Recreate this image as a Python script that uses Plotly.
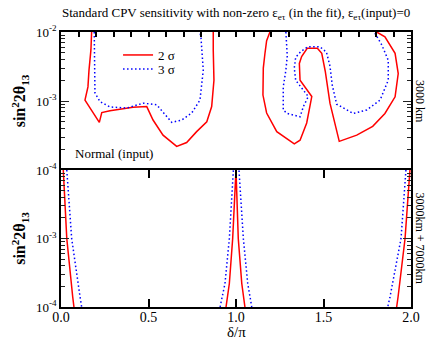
import plotly.graph_objects as go

# ---------------- data (delta/pi, sin^2 2theta13) ----------------
# Top panel: 3000 km
top_red_a_delta = [0.175, 0.171, 0.160, 0.154, 0.137, 0.219, 0.233, 0.28, 0.411, 0.49, 0.526,
                   0.583, 0.661, 0.718, 0.775, 0.833, 0.861, 0.874, 0.870, 0.870]
top_red_a_s2 = [0.01, 0.0055, 0.0028, 0.0016, 0.00103, 0.00049, 0.00068, 0.00072, 0.00081, 0.00083,
                0.00053, 0.00032, 0.00022, 0.00025, 0.00036, 0.00050, 0.00083, 0.0020, 0.0055, 0.01]

top_blue_a_delta = [0.190, 0.190, 0.194, 0.223, 0.28, 0.375, 0.47, 0.547, 0.585, 0.633, 0.69,
                    0.747, 0.794, 0.813, 0.80, 0.794]
top_blue_a_s2 = [0.01, 0.0028, 0.00131, 0.00098, 0.00082, 0.00079, 0.00093, 0.00088, 0.00067,
                 0.00049, 0.00053, 0.00067, 0.00103, 0.0028, 0.0082, 0.01]

top_red_b_delta = [1.194, 1.175, 1.165, 1.156, 1.154, 1.175, 1.233, 1.333, 1.366, 1.404, 1.433,
                   1.404, 1.366, 1.362, 1.375, 1.407, 1.465, 1.49, 1.51, 1.537, 1.565, 1.59,
                   1.69, 1.781, 1.851, 1.909, 1.927, 1.909, 1.851, 1.804]
top_red_b_s2 = [0.01, 0.0075, 0.0048, 0.0030, 0.00122, 0.00067, 0.00036, 0.00024, 0.00027,
                0.00048, 0.00116, 0.00145, 0.0020, 0.0035, 0.0044, 0.0058, 0.0058, 0.0049,
                0.0027, 0.00093, 0.00045, 0.00026, 0.00032, 0.00043, 0.00066, 0.00115, 0.0025,
                0.0049, 0.0085, 0.01]

top_blue_b_delta = [1.285, 1.293, 1.285, 1.27, 1.27, 1.293, 1.366, 1.385, 1.413, 1.394, 1.341,
                    1.333, 1.341, 1.37, 1.41, 1.48, 1.517, 1.537, 1.55, 1.575, 1.67, 1.747,
                    1.823, 1.87, 1.87, 1.833, 1.794]
top_blue_b_s2 = [0.01, 0.0045, 0.0028, 0.0016, 0.00074, 0.00066, 0.00059, 0.00083, 0.00116,
                 0.00135, 0.0020, 0.0030, 0.0043, 0.0052, 0.0061, 0.0061, 0.0051, 0.0032,
                 0.0017, 0.0009, 0.00066, 0.00074, 0.00103, 0.0020, 0.0039, 0.0065, 0.0096]

# Bottom panel: 3000 km + 7000 km
bot_red_0_delta = [0.013, 0.033, 0.067, 0.074]
bot_red_0_s2 = [0.01, 0.001, 0.00014, 0.0001]
bot_blue_0_delta = [0.033, 0.061, 0.109, 0.118]
bot_blue_0_s2 = [0.01, 0.001, 0.00014, 0.0001]

bot_red_1_delta = [0.943, 0.962, 0.981, 0.998, 1.0, 1.013, 1.033, 1.051]
bot_red_1_s2 = [0.0001, 0.00022, 0.001, 0.01, 0.01, 0.001, 0.00022, 0.0001]
bot_blue_1_delta = [0.909, 0.937, 0.962, 0.985, 1.017, 1.042, 1.067, 1.09]
bot_blue_1_s2 = [0.0001, 0.00022, 0.001, 0.01, 0.01, 0.001, 0.00022, 0.0001]

bot_red_2_delta = [1.994, 1.966, 1.926, 1.918]
bot_red_2_s2 = [0.01, 0.001, 0.00014, 0.0001]
bot_blue_2_delta = [1.971, 1.943, 1.88, 1.867]
bot_blue_2_s2 = [0.01, 0.001, 0.00014, 0.0001]

top_y_tickvals = [1e-3, 1e-2]
top_y_ticktext = ["10<sup>-3</sup>", "10<sup>-2</sup>"]
bot_y_tickvals = [1e-4, 1e-3, 1e-2]
bot_y_ticktext = ["10<sup>-4</sup>", "10<sup>-3</sup>", "10<sup>-4</sup>"]

# ---------------- figure ----------------
RED = "#ff0000"
BLUE = "#0000ff"
FONT = "Liberation Serif"
DOT = "1.5px,2.5px"
SPLIT = 137 / 275

fig = go.Figure()

def add(xs, ys, color, dash, yax, name=None, legend="legend"):
    fig.add_trace(go.Scatter(x=xs, y=ys, mode="lines", xaxis="x" if yax == "y" else "x2", yaxis=yax,
                             line=dict(color=color, width=1.5, dash=dash),
                             name=name, showlegend=name is not None, legend=legend,
                             hoverinfo="skip"))

add(top_red_a_delta, top_red_a_s2, RED, "solid", "y", "2 σ", "legend")
add(top_blue_a_delta, top_blue_a_s2, BLUE, DOT, "y", "3 σ", "legend2")
add(top_red_b_delta, top_red_b_s2, RED, "solid", "y")
add(top_blue_b_delta, top_blue_b_s2, BLUE, DOT, "y")

add(bot_red_0_delta, bot_red_0_s2, RED, "solid", "y2")
add(bot_blue_0_delta, bot_blue_0_s2, BLUE, DOT, "y2")
add(bot_red_1_delta, bot_red_1_s2, RED, "solid", "y2")
add(bot_blue_1_delta, bot_blue_1_s2, BLUE, DOT, "y2")
add(bot_red_2_delta, bot_red_2_s2, RED, "solid", "y2")
add(bot_blue_2_delta, bot_blue_2_s2, BLUE, DOT, "y2")

def xtick_axis(anchor, side, dtick, ticklen, showline=False, mirror=False, labels=False):
    return dict(range=[0, 2], tickmode="linear", tick0=0, dtick=dtick, tickformat=".1f",
                ticks="inside", ticklen=ticklen, tickwidth=1.5, tickcolor="black",
                showline=showline, linecolor="black", linewidth=1.5, mirror=mirror,
                showgrid=False, zeroline=False, automargin=False, anchor=anchor, side=side,
                showticklabels=labels,
                tickfont=dict(family=FONT, size=14, color="black"))

ycommon = dict(type="log", range=[-4, -2], ticks="inside", ticklen=8,
               tickwidth=1, showline=True, linecolor="black", linewidth=1.5, mirror="ticks",
               showgrid=False, zeroline=False, tickcolor="#222", automargin=False,
               minor=dict(dtick="D1", ticks="inside", ticklen=4, tickwidth=1, tickcolor="#222",
                          showgrid=False),
               tickfont=dict(family=FONT, size=13, color="black"),
               title=dict(text="<b>sin<sup>2</sup>2θ<sub>13</sub></b>",
                          font=dict(family=FONT, size=16, color="black"), standoff=6))

fig.update_layout(
    # top panel: axis drawn at its top edge
    xaxis=xtick_axis("y", "top", 0.1, 5, showline=True),
    # bottom panel: axis at bottom, mirrored line + ticks at the shared boundary
    xaxis2=dict(xtick_axis("y2", "bottom", 0.5, 8, showline=True, mirror="ticks", labels=True),
                ticklabelstandoff=-4),
    yaxis=dict(ycommon, domain=[SPLIT, 1], anchor="x", tickmode="array",
               tickvals=top_y_tickvals, ticktext=top_y_ticktext),
    yaxis2=dict(ycommon, domain=[0, SPLIT], anchor="x2", tickmode="array",
                tickvals=bot_y_tickvals, ticktext=bot_y_ticktext),
)

fig.add_annotation(text="Standard CPV sensitivity with non-zero ε<sub>eτ</sub> (in the fit), ε<sub>eτ</sub>(input)=0",
                   xref="paper", yref="paper", x=0.5, y=1.0, yshift=19, showarrow=False,
                   xanchor="center", yanchor="middle", font=dict(family=FONT, size=13, color="black"))
fig.add_annotation(text="δ/π", xref="paper", yref="paper", x=0.5, y=0, yshift=-25,
                   showarrow=False, xanchor="center", yanchor="middle",
                   font=dict(family=FONT, size=15, color="black"))
fig.add_annotation(text="Normal (input)", xref="paper", yref="paper", x=0.035, y=SPLIT, yshift=17,
                   xanchor="left", yanchor="middle", showarrow=False,
                   font=dict(family=FONT, size=13, color="black"))
fig.add_annotation(text="3000 km", xref="paper", yref="paper", x=1.0, xshift=9, y=(1 + SPLIT) / 2,
                   textangle=90, xanchor="center", yanchor="middle", showarrow=False,
                   font=dict(family=FONT, size=12, color="black"))
fig.add_annotation(text="3000km + 7000km", xref="paper", yref="paper", x=1.0, xshift=9, y=SPLIT / 2,
                   textangle=90, xanchor="center", yanchor="middle", showarrow=False,
                   font=dict(family=FONT, size=12, color="black"))

leg = dict(xanchor="left", yanchor="middle", bgcolor="rgba(0,0,0,0)",
           font=dict(family=FONT, size=13, color="black"), itemwidth=30)
fig.update_layout(
    width=427, height=340,
    margin=dict(l=61, r=16, t=32, b=33),
    paper_bgcolor="white", plot_bgcolor="white",
    legend=dict(leg, x=0.163, y=(307 - 55) / 275),
    legend2=dict(leg, x=0.163, y=(307 - 69) / 275),
)

fig.write_html("out.html")
